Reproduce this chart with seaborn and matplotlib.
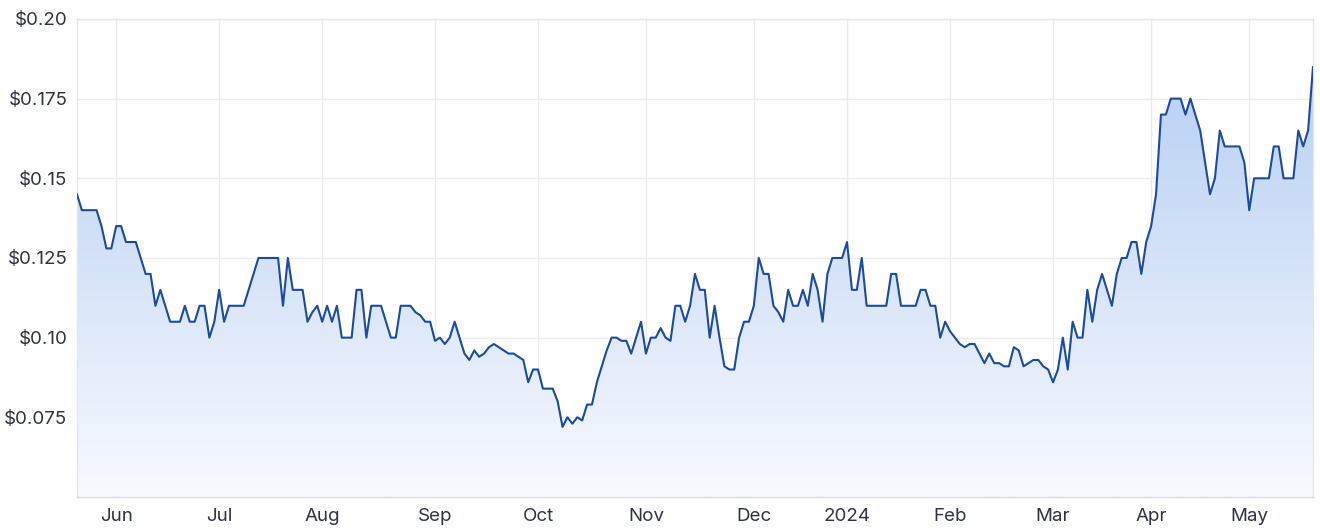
import numpy as np
import pandas as pd
import matplotlib
matplotlib.use("Agg")
import matplotlib.pyplot as plt
import seaborn as sns
from matplotlib.colors import LinearSegmentedColormap

# ---- data -------------------------------------------------------------
start_date = "2023-05-22"
end_date = "2024-05-20"
holidays = ["2023-06-12", "2023-12-25", "2023-12-26", "2024-01-01",
            "2024-01-26", "2024-03-29", "2024-04-01", "2024-04-25"]

prices = [
    # late May 2023
    0.145, 0.14, 0.14, 0.14, 0.14, 0.135, 0.128, 0.128,
    # Jun
    0.135, 0.135, 0.13, 0.13, 0.13, 0.125, 0.12, 0.12, 0.11, 0.115, 0.11,
    0.105, 0.105, 0.105, 0.11, 0.105, 0.105, 0.11, 0.11, 0.10, 0.105,
    # Jul
    0.115, 0.105, 0.11, 0.11, 0.11, 0.11, 0.115, 0.12, 0.125, 0.125, 0.125,
    0.125, 0.125, 0.11, 0.125, 0.115, 0.115, 0.115, 0.105, 0.108, 0.11,
    # Aug
    0.105, 0.11, 0.105, 0.11, 0.10, 0.10, 0.10, 0.115, 0.115, 0.10, 0.11,
    0.11, 0.11, 0.105, 0.10, 0.10, 0.11, 0.11, 0.11, 0.108, 0.107, 0.105,
    0.105,
    # Sep
    0.099, 0.10, 0.098, 0.10, 0.105, 0.10, 0.095, 0.093, 0.096, 0.094,
    0.095, 0.097, 0.098, 0.097, 0.096, 0.095, 0.095, 0.094, 0.093, 0.086,
    0.09,
    # Oct
    0.09, 0.084, 0.084, 0.084, 0.08, 0.072, 0.075, 0.073, 0.075, 0.074,
    0.079, 0.079, 0.086, 0.091, 0.096, 0.10, 0.10, 0.099, 0.099, 0.095,
    0.10, 0.105,
    # Nov
    0.095, 0.10, 0.10, 0.103, 0.10, 0.099, 0.11, 0.11, 0.105, 0.11, 0.12,
    0.115, 0.115, 0.10, 0.11, 0.10, 0.091, 0.09, 0.09, 0.10, 0.105, 0.105,
    # Dec
    0.11, 0.125, 0.12, 0.12, 0.11, 0.108, 0.105, 0.115, 0.11, 0.11, 0.115,
    0.11, 0.12, 0.115, 0.105, 0.12, 0.125, 0.125, 0.125,
    # Jan 2024
    0.13, 0.115, 0.115, 0.125, 0.11, 0.11, 0.11, 0.11, 0.11, 0.12, 0.12,
    0.11, 0.11, 0.11, 0.11, 0.115, 0.115, 0.11, 0.11, 0.10, 0.105,
    # Feb
    0.102, 0.10, 0.098, 0.097, 0.098, 0.098, 0.095, 0.092, 0.095, 0.092,
    0.092, 0.091, 0.091, 0.097, 0.096, 0.091, 0.092, 0.093, 0.093, 0.091,
    0.09,
    # Mar
    0.086, 0.09, 0.10, 0.09, 0.105, 0.10, 0.10, 0.115, 0.105, 0.115, 0.12,
    0.115, 0.11, 0.12, 0.125, 0.125, 0.13, 0.13, 0.12, 0.13,
    # Apr
    0.135, 0.145, 0.17, 0.17, 0.175, 0.175, 0.175, 0.17, 0.175, 0.17,
    0.165, 0.155, 0.145, 0.15, 0.165, 0.16, 0.16, 0.16, 0.16, 0.155,
    # May
    0.14, 0.15, 0.15, 0.15, 0.15, 0.16, 0.16, 0.15, 0.15, 0.15, 0.165,
    0.16, 0.165, 0.185,
]

y_ticks = [0.075, 0.10, 0.125, 0.15, 0.175, 0.20]
y_tick_labels = ["$0.075", "$0.10", "$0.125", "$0.15", "$0.175", "$0.20"]

# ---- build frame ------------------------------------------------------
dates = pd.bdate_range(start_date, end_date)
dates = dates[~dates.isin(pd.to_datetime(holidays))]
df = pd.DataFrame({"date": dates, "price": prices})
df["idx"] = np.arange(len(df))

month_first = df.groupby(df["date"].dt.to_period("M"))["idx"].min()
x_ticks, x_labels = [], []
for per, i in month_first.items():
    if i == 0:
        continue
    x_ticks.append(i)
    x_labels.append(str(per.year) if per.month == 1 else per.strftime("%b"))

# ---- style ------------------------------------------------------------
sns.set_theme(style="white")
plt.rcParams["font.family"] = ["Inter", "DejaVu Sans"]
text_color = "#2e3342"
line_color = "#1c4a9c"
grid_color = "#ebebee"

fig = plt.figure(figsize=(13.2, 5.3), dpi=100)
ax = fig.add_axes([0.0583, 0.0623, 0.9364, 0.9019])

ymin, ymax = 0.05, 0.20
xmax = len(df) - 1

# gradient fill under the line
cmap = LinearSegmentedColormap.from_list("g", ["#f8fafe", "#b7d0f3"])
top = max(prices)
grad = np.linspace(0, 1, 256).reshape(-1, 1)
im = ax.imshow(grad, extent=[0, xmax, ymin, top], origin="lower",
               aspect="auto", cmap=cmap, zorder=1)
poly = ax.fill_between(df["idx"], df["price"], ymin, color="none", lw=0)
clip = poly.get_paths()[0]
im.set_clip_path(clip, transform=ax.transData)

sns.lineplot(data=df, x="idx", y="price", ax=ax, color=line_color,
             linewidth=1.5, zorder=3)

ax.set_xlim(0, xmax)
ax.set_ylim(ymin, ymax)
ax.set_xticks(x_ticks)
ax.set_xticklabels(x_labels)
ax.set_yticks(y_ticks)
ax.set_yticklabels(y_tick_labels)
ax.set_xlabel("")
ax.set_ylabel("")

ax.grid(True, color=grid_color, linewidth=1, zorder=0)
ax.set_axisbelow(True)
for s in ax.spines.values():
    s.set_color("#e6e6ea")
    s.set_linewidth(1)
ax.spines["bottom"].set_color("#dcdce0")

ax.tick_params(axis="both", length=0, labelsize=13.5, colors=text_color)
ax.tick_params(axis="y", pad=7)
ax.tick_params(axis="x", pad=8)

fig.savefig("out.png", dpi=100)
